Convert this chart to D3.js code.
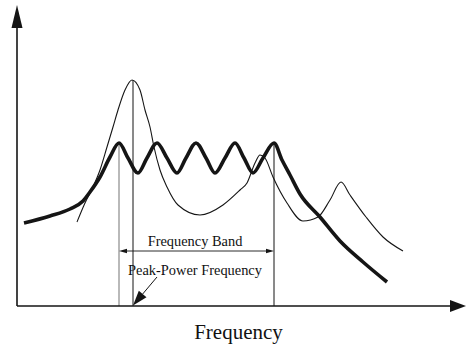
<!DOCTYPE html>
<html>
<head>
<meta charset="utf-8">
<script src="https://cdn.jsdelivr.net/npm/d3@7"></script>
<style>
	body { margin: 0; background: #fff; }
	svg text { font-family: "Liberation Serif", "Times New Roman", serif; fill: #111; }
</style>
</head>
<body>
<div id="chart"></div>
<script>
// frequency / power in arbitrary units
// thick curve: band-type spectrum
var bandX = [7, 33, 53, 66, 73, 83, 93, 102, 111, 121, 130, 140, 150, 160, 169, 179, 189, 198, 208, 218, 227, 236, 246, 257, 265, 273, 283, 303, 323, 346, 370];
var bandY = [83, 90, 97, 105, 114, 129, 149, 163, 148, 133, 148, 163, 148, 133, 148, 163, 148, 133, 148, 163, 148, 133, 148, 163, 146, 131, 112, 89, 65, 44, 24];

// thin curve: single-peak spectrum
var peakX = [60, 68, 76, 83, 90, 96, 101, 108, 115, 123, 128, 133, 137, 143, 150, 161, 183, 206, 223, 230, 238, 243, 248, 256, 270, 286, 301, 313, 324, 333, 349, 366, 386];
var peakY = [84, 103, 119, 136, 159, 179, 196, 216, 226, 216, 196, 179, 159, 136, 119, 101, 91, 101, 116, 123, 143, 151, 148, 129, 103, 85, 89, 106, 124, 111, 89, 69, 55];

var bandStart = 102, bandEnd = 257, peakPowerFreq = 116;
var labels = { band: 'Frequency Band', peak: 'Peak-Power Frequency', xAxis: 'Frequency' };

var width = 466, height = 348;
var x = d3.scaleLinear().domain([0, 450]).range([17, 467]);
var y = d3.scaleLinear().domain([0, 300]).range([306, 6]);

var svg = d3.select('#chart').append('svg')
	.attr('width', width)
	.attr('height', height);

var ink = '#151515';

// vertical markers
svg.append('line')
	.attr('x1', x(bandStart)).attr('x2', x(bandStart))
	.attr('y1', y(0)).attr('y2', y(163))
	.attr('stroke', '#8a8a8a').attr('stroke-width', 1.2);
svg.append('line')
	.attr('x1', x(peakPowerFreq)).attr('x2', x(peakPowerFreq))
	.attr('y1', y(0)).attr('y2', y(226))
	.attr('stroke', ink).attr('stroke-width', 1);
svg.append('line')
	.attr('x1', x(bandEnd)).attr('x2', x(bandEnd))
	.attr('y1', y(0)).attr('y2', y(163))
	.attr('stroke', ink).attr('stroke-width', 1);

var line = d3.line()
	.x(function (d) { return x(d[0]); })
	.y(function (d) { return y(d[1]); })
	.curve(d3.curveMonotoneX);

svg.append('path')
	.datum(d3.zip(peakX, peakY))
	.attr('d', line)
	.attr('fill', 'none')
	.attr('stroke', ink)
	.attr('stroke-width', 1.1);

svg.append('path')
	.datum(d3.zip(bandX, bandY))
	.attr('d', line)
	.attr('fill', 'none')
	.attr('stroke', ink)
	.attr('stroke-width', 3.6)
	.attr('stroke-linejoin', 'round');

// axes with arrows
svg.append('line')
	.attr('x1', x(0)).attr('x2', 452)
	.attr('y1', y(0)).attr('y2', y(0))
	.attr('stroke', ink).attr('stroke-width', 1.6);
svg.append('path')
	.attr('d', 'M466,' + y(0) + 'L450,' + (y(0) - 6) + 'L450,' + (y(0) + 6) + 'Z')
	.attr('fill', ink);
svg.append('line')
	.attr('x1', x(0)).attr('x2', x(0))
	.attr('y1', y(0)).attr('y2', 26)
	.attr('stroke', ink).attr('stroke-width', 1.6);
svg.append('path')
	.attr('d', 'M' + x(0) + ',5L' + (x(0) - 5.5) + ',28L' + (x(0) + 5.5) + ',28Z')
	.attr('fill', ink);

// frequency band double arrow
var bandY0 = 251;
svg.append('line')
	.attr('x1', x(bandStart) + 4).attr('x2', x(bandEnd) - 4)
	.attr('y1', bandY0).attr('y2', bandY0)
	.attr('stroke', ink).attr('stroke-width', 0.9);
svg.append('path')
	.attr('d', 'M' + x(bandStart) + ',' + bandY0 + 'l8,-2.2l0,4.4Z')
	.attr('fill', ink);
svg.append('path')
	.attr('d', 'M' + x(bandEnd) + ',' + bandY0 + 'l-8,-2.2l0,4.4Z')
	.attr('fill', ink);

svg.append('text')
	.attr('x', 195).attr('y', 246)
	.attr('text-anchor', 'middle')
	.style('font-size', '14.4px')
	.text(labels.band);

svg.append('text')
	.attr('x', 195).attr('y', 275)
	.attr('text-anchor', 'middle')
	.style('font-size', '14.4px')
	.text(labels.peak);

// pointer to peak-power frequency
var tipX = x(peakPowerFreq), tipY = y(0) - 0.5;
var ang = Math.atan2(277 - tipY, 157 - tipX);
var len = 15, half = 5;
var bx = tipX + len * Math.cos(ang), by = tipY + len * Math.sin(ang);
svg.append('line')
	.attr('x1', 157).attr('y1', 277)
	.attr('x2', bx).attr('y2', by)
	.attr('stroke', ink).attr('stroke-width', 1);
svg.append('path')
	.attr('d', 'M' + tipX + ',' + tipY +
		'L' + (bx - half * Math.sin(ang)) + ',' + (by + half * Math.cos(ang)) +
		'L' + (bx + half * Math.sin(ang)) + ',' + (by - half * Math.cos(ang)) + 'Z')
	.attr('fill', ink);

svg.append('text')
	.attr('x', 238.5).attr('y', 339)
	.attr('text-anchor', 'middle')
	.style('font-size', '21px')
	.text(labels.xAxis);
</script>
</body>
</html>
